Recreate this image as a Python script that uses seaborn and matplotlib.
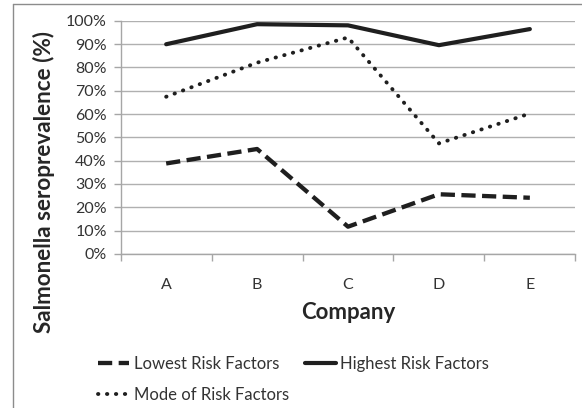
import pandas as pd
import matplotlib
matplotlib.use("Agg")
import matplotlib.pyplot as plt
import seaborn as sns
from matplotlib.lines import Line2D
from matplotlib.ticker import PercentFormatter

# data
companies = ["A", "B", "C", "D", "E"]
lowest = [38.8, 45.0, 11.7, 25.6, 24.1]
highest = [89.9, 98.5, 98.0, 89.5, 96.4]
mode = [67.4, 82.0, 92.8, 47.4, 60.2]

sns.set_style("white")
plt.rcParams["font.family"] = ["Lato", "DejaVu Sans"]

fig = plt.figure(figsize=(5.82, 4.08), dpi=100)
ax = fig.add_axes([0.2074, 0.3775, 0.7811, 0.5718])

line_col = "#1f1f1f"
sns.lineplot(x=companies, y=lowest, ax=ax, color=line_col, lw=3.1,
             linestyle=(0, (3.3, 1.5)), label="Lowest Risk Factors")
sns.lineplot(x=companies, y=mode, ax=ax, color=line_col, lw=2.8,
             linestyle=(0, (0.1, 2.2)), dash_capstyle="round",
             label="Mode of Risk Factors")
sns.lineplot(x=companies, y=highest, ax=ax, color=line_col, lw=3,
             label="Highest Risk Factors")

ax.set_ylim(0, 100)
ax.set_xlim(-0.5, 4.5)
ax.set_yticks(range(0, 101, 10))
ax.yaxis.set_major_formatter(PercentFormatter(decimals=0))
ax.set_xticks(range(len(companies)))
ax.set_xticklabels(companies)
ax.set_xticks([i - 0.5 for i in range(len(companies) + 1)], minor=True)

ax.grid(axis="y", color="#b0b0b0", lw=1)
for s in ["top", "right"]:
    ax.spines[s].set_visible(False)
for s in ["left", "bottom"]:
    ax.spines[s].set_color("#a6a6a6")
    ax.spines[s].set_linewidth(1)

ax.tick_params(axis="y", which="major", left=True, length=5, width=1,
               color="#a6a6a6", labelsize=11.5, labelcolor="#333333", pad=5)
ax.tick_params(axis="x", which="major", bottom=False, labelsize=11.5,
               labelcolor="#333333", pad=14)
ax.tick_params(axis="x", which="minor", bottom=True, length=5, width=1,
               color="#a6a6a6")

ax.set_xlabel("Company", fontsize=16, fontweight="bold", color="#262626")
ax.set_ylabel("Salmonella seroprevalence (%)", fontsize=16.2,
              fontweight="bold", color="#262626")
ax.xaxis.set_label_coords(0.5, -0.205)
ax.yaxis.set_label_coords(-0.145, 0.31)

ax.get_legend().remove()
handles, labels = ax.get_legend_handles_labels()
# column-wise fill: Lowest, Mode | Highest
fig.legend(handles, labels, loc="upper left", bbox_to_anchor=(0.168, 0.127),
           ncol=2, frameon=False, fontsize=12, handlelength=1.9,
           handletextpad=0.25, columnspacing=0.95, labelspacing=0.9,
           borderpad=0, borderaxespad=0, labelcolor="#333333")

# chart frame (cropped)
fig.add_artist(Line2D([13 / 582, 13 / 582], [0, 1 - 4 / 408],
                      transform=fig.transFigure, color="#8c8c8c", lw=1))
fig.add_artist(Line2D([13 / 582, 1], [1 - 4 / 408, 1 - 4 / 408],
                      transform=fig.transFigure, color="#8c8c8c", lw=1))

fig.savefig("out.png", dpi=100)
